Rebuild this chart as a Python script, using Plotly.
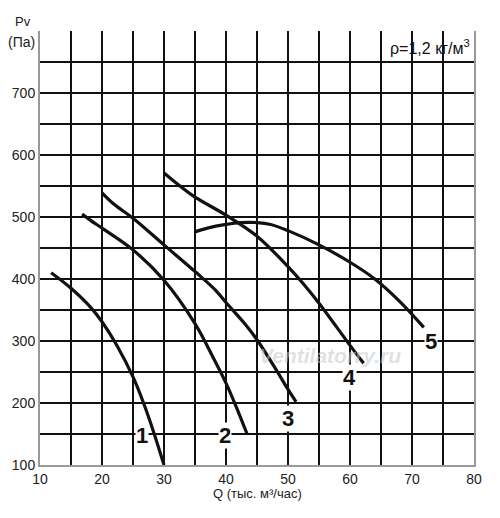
import plotly.graph_objects as go

# curve data: Q (thousand m3/h) and Pv (Pa)
q1 = [11.8, 15, 18.1, 20, 22.45, 25, 26.7, 28.4, 30]
p1 = [410, 385, 355, 331, 292, 242, 200, 151, 100]

q2 = [16.8, 18.1, 20, 25, 30, 35, 38.3, 40, 41.6, 43.4]
p2 = [505, 495, 482, 447, 398, 328, 266, 232, 195, 150]

q3 = [20, 22, 25, 30, 35, 38.3, 40, 43.1, 45, 48, 50, 51.3]
p3 = [539, 520, 498, 455, 412, 382, 362, 327, 302, 255, 222, 202]

q4 = [30, 32.7, 35, 40, 45, 50, 52.5, 55, 60, 62.2]
p4 = [571, 549, 532, 503, 469, 420, 392, 361, 293, 264]

q5 = [35, 37, 40, 42.3, 45, 47.2, 50, 55, 60, 64, 68, 71.9]
p5 = [476, 482, 488, 491, 491, 488, 478, 455, 427, 400, 364, 322]

curve_names = ["1", "2", "3", "4", "5"]
label_q = [26.5, 39.9, 50, 59.9, 73.1]
label_p = [148, 148, 175, 241, 299]

x_ticks = [10, 20, 30, 40, 50, 60, 70, 80]
y_ticks = [100, 200, 300, 400, 500, 600, 700]

fig = go.Figure()

# smooth black fan curves
for q, p in [(q1, p1), (q2, p2), (q3, p3), (q4, p4), (q5, p5)]:
    fig.add_trace(go.Scatter(x=q, y=p, mode="lines",
                             line=dict(color="#111", width=3.2, shape="spline", smoothing=1.0),
                             showlegend=False, hoverinfo="skip"))

# watermark
fig.add_annotation(x=56.8, y=277, text="<i><b>Ventilatorry.ru</b></i>", showarrow=False,
                   font=dict(family="Liberation Sans", size=21, color="rgba(200,200,200,0.55)"))

# curve numbers
for name, q, p in zip(curve_names, label_q, label_p):
    fig.add_annotation(x=q, y=p, text="<b>" + name + "</b>", showarrow=False,
                       bgcolor="white", borderpad=0,
                       font=dict(family="Liberation Sans", size=22, color="#111"))

fig.add_annotation(xref="paper", yref="paper", x=0.995, y=1 - 16 / 434,
                   xanchor="right", yanchor="middle",
                   text="ρ=1,2 кг/м<sup>3</sup>", showarrow=False,
                   font=dict(family="Liberation Sans", size=16, color="#111"))

# axis titles
fig.add_annotation(xref="paper", yref="paper", x=-0.040, y=1 + 9 / 434, text="Pv", showarrow=False,
                   xanchor="center", yanchor="middle",
                   font=dict(family="Liberation Sans", size=13, color="#222"))
fig.add_annotation(xref="paper", yref="paper", x=-0.042, y=1 - 11 / 434, text="(Па)", showarrow=False,
                   xanchor="center", yanchor="middle",
                   font=dict(family="Liberation Sans", size=14, color="#222"))
fig.add_annotation(xref="paper", yref="paper", x=0.5, y=-28 / 434, text="Q (тыс. м³/час)",
                   xanchor="center", yanchor="middle",
                   showarrow=False, font=dict(family="Liberation Sans", size=13, color="#222"))

# page body adds an 8px margin, so the figure is 8px smaller than the window
fig.update_layout(
    width=492, height=510,
    margin=dict(l=32, r=26, t=23, b=53),
    plot_bgcolor="white", paper_bgcolor="white",
    font=dict(family="Liberation Sans", size=14, color="#222"),
    xaxis=dict(range=[10, 80], tickvals=x_ticks, showgrid=True, gridcolor="#111", gridwidth=1.6,
               minor=dict(dtick=5, tick0=10, showgrid=True, gridcolor="#111", gridwidth=1.6),
               showline=True, linecolor="#999", linewidth=2, mirror=False, zeroline=False,
               ticks="", automargin=False, ticklabelstandoff=0),
    yaxis=dict(range=[100, 800], tickvals=y_ticks, showgrid=True, gridcolor="#111", gridwidth=1.6,
               minor=dict(dtick=50, tick0=100, showgrid=True, gridcolor="#111", gridwidth=1.6),
               showline=True, linecolor="#999", linewidth=2, mirror=True, zeroline=False,
               ticks="", automargin=False, ticklabelstandoff=0),
)

fig.write_html("out.html")
